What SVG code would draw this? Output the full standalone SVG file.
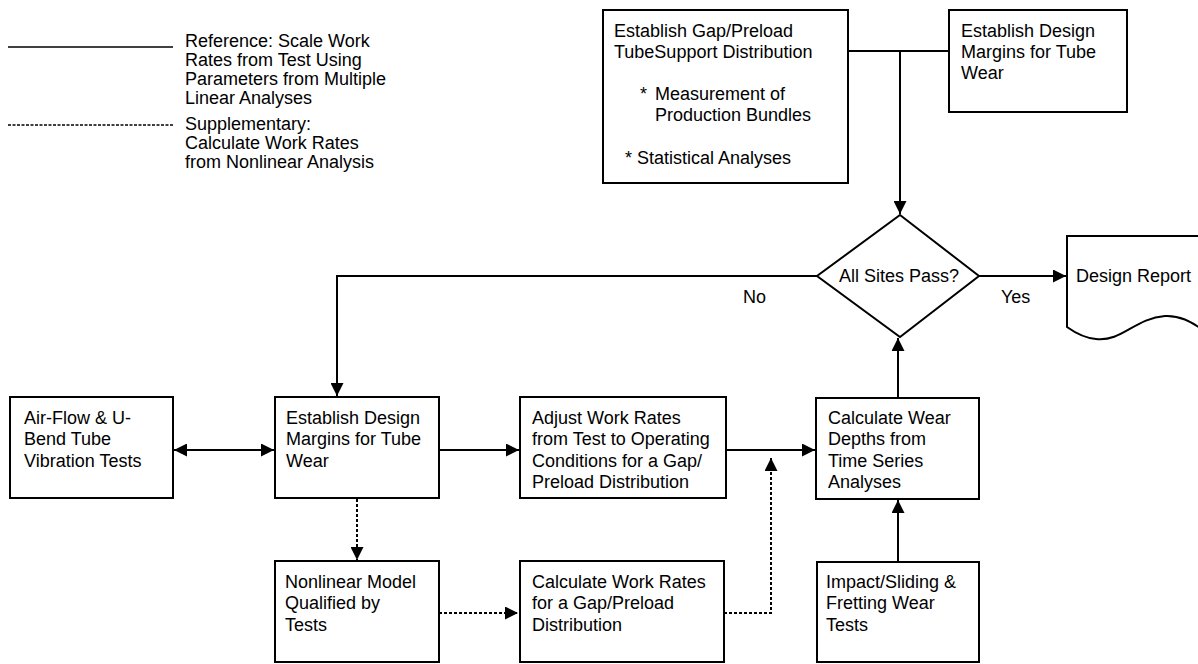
<svg xmlns="http://www.w3.org/2000/svg" width="1198" height="664" viewBox="0 0 1198 664">
  <style>
    text { font-family: "Liberation Sans", Arial, sans-serif; font-size: 18px; fill: #000; }
    .box { fill: #fff; stroke: #000; stroke-width: 2; }
    .solid { fill: none; stroke: #000; stroke-width: 2; }
    .dotted { fill: none; stroke: #000; stroke-width: 2; stroke-dasharray: 3 2; }
  </style>
  <defs>
    <marker id="arrow" viewBox="0 0 10 10" refX="10" refY="5" markerWidth="6.5" markerHeight="6.5" orient="auto-start-reverse" markerUnits="strokeWidth">
      <path d="M0,0 L10,5 L0,10 Z" fill="#000"/>
    </marker>
  </defs>
  <rect width="1198" height="664" fill="#fff"/>

  <!-- legend -->
  <g id="legend">
    <line x1="8" y1="47" x2="173" y2="47" stroke="#000" stroke-width="1.5"/>
    <text x="185" y="47">Reference: Scale Work</text>
    <text x="185" y="66">Rates from Test Using</text>
    <text x="185" y="85">Parameters from Multiple</text>
    <text x="185" y="104">Linear Analyses</text>
    <line x1="8" y1="125" x2="173" y2="125" stroke="#000" stroke-width="1.5" stroke-dasharray="3 1.5"/>
    <text x="185" y="130">Supplementary:</text>
    <text x="185" y="149">Calculate Work Rates</text>
    <text x="185" y="168">from Nonlinear Analysis</text>
  </g>

  <!-- connectors -->
  <g id="connectors">
    <!-- top boxes into decision -->
    <line class="solid" x1="848" y1="51" x2="949" y2="51"/>
    <line class="solid" x1="900" y1="51" x2="900" y2="214" marker-end="url(#arrow)"/>
    <!-- Yes -->
    <line class="solid" x1="979" y1="276" x2="1066" y2="276" marker-end="url(#arrow)"/>
    <!-- No -->
    <polyline class="solid" points="817,276 337,276 337,396" marker-end="url(#arrow)"/>
    <!-- test loop -->
    <line class="solid" x1="174" y1="450" x2="274" y2="450" marker-start="url(#arrow)" marker-end="url(#arrow)"/>
    <line class="solid" x1="439" y1="450" x2="519" y2="450" marker-end="url(#arrow)"/>
    <line class="solid" x1="726" y1="450" x2="815" y2="450" marker-end="url(#arrow)"/>
    <line class="solid" x1="898" y1="397" x2="898" y2="338" marker-end="url(#arrow)"/>
    <line class="solid" x1="898" y1="562" x2="898" y2="500" marker-end="url(#arrow)"/>
    <!-- nonlinear path -->
    <line class="dotted" x1="357" y1="499" x2="357" y2="560" marker-end="url(#arrow)"/>
    <line class="dotted" x1="439" y1="613" x2="518" y2="613" marker-end="url(#arrow)"/>
    <polyline class="dotted" points="724,613 771,613 771,458" marker-end="url(#arrow)"/>
  </g>

  <g id="gap-preload">
    <rect class="box" x="603" y="10" width="245" height="173"/>
    <text x="614" y="37">Establish Gap/Preload</text>
    <text x="614" y="58">TubeSupport Distribution</text>
    <text x="640" y="100">*</text>
    <text x="655" y="100">Measurement of</text>
    <text x="655" y="121">Production Bundles</text>
    <text x="625" y="164">* Statistical Analyses</text>
  </g>

  <g id="design-margins-top">
    <rect class="box" x="949" y="10" width="178" height="102"/>
    <text x="961" y="37">Establish Design</text>
    <text x="961" y="58">Margins for Tube</text>
    <text x="961" y="79">Wear</text>
  </g>

  <g id="decision">
    <polygon class="box" points="900,215 979,276 900,337 817,276"/>
    <text x="899" y="282" text-anchor="middle">All Sites Pass?</text>
  </g>

  <g id="labels">
    <text x="743" y="303">No</text>
    <text x="1001" y="303">Yes</text>
  </g>

  <g id="design-report">
    <path class="box" d="M1067,327 V236 H1210 V334 C1196,326 1184,315 1165,316 C1135,318 1122,342 1096,339 C1083,338 1074,332 1067,327 Z"/>
    <text x="1076" y="282">Design Report</text>
  </g>

  <g id="airflow-tests">
    <rect class="box" x="10" y="397" width="163" height="101"/>
    <text x="24" y="424">Air-Flow &amp; U-</text>
    <text x="24" y="445">Bend Tube</text>
    <text x="24" y="467">Vibration Tests</text>
  </g>

  <g id="design-margins">
    <rect class="box" x="275" y="397" width="164" height="101"/>
    <text x="286" y="424">Establish Design</text>
    <text x="286" y="445">Margins for Tube</text>
    <text x="286" y="467">Wear</text>
  </g>

  <g id="adjust-work-rates">
    <rect class="box" x="520" y="397" width="206" height="101"/>
    <text x="532" y="424">Adjust Work Rates</text>
    <text x="532" y="445">from Test to Operating</text>
    <text x="532" y="467">Conditions for a Gap/</text>
    <text x="532" y="488">Preload Distribution</text>
  </g>

  <g id="wear-depths">
    <rect class="box" x="816" y="398" width="163" height="101"/>
    <text x="828" y="424">Calculate Wear</text>
    <text x="828" y="445">Depths from</text>
    <text x="828" y="467">Time Series</text>
    <text x="828" y="488">Analyses</text>
  </g>

  <g id="nonlinear-model">
    <rect class="box" x="275" y="561" width="164" height="101"/>
    <text x="285" y="588">Nonlinear Model</text>
    <text x="285" y="609">Qualified by</text>
    <text x="285" y="631">Tests</text>
  </g>

  <g id="calc-work-rates">
    <rect class="box" x="520" y="561" width="204" height="101"/>
    <text x="532" y="588">Calculate Work Rates</text>
    <text x="532" y="609">for a Gap/Preload</text>
    <text x="532" y="631">Distribution</text>
  </g>

  <g id="wear-tests">
    <rect class="box" x="817" y="562" width="162" height="100"/>
    <text x="826" y="588">Impact/Sliding &amp;</text>
    <text x="826" y="609">Fretting Wear</text>
    <text x="826" y="631">Tests</text>
  </g>
</svg>
